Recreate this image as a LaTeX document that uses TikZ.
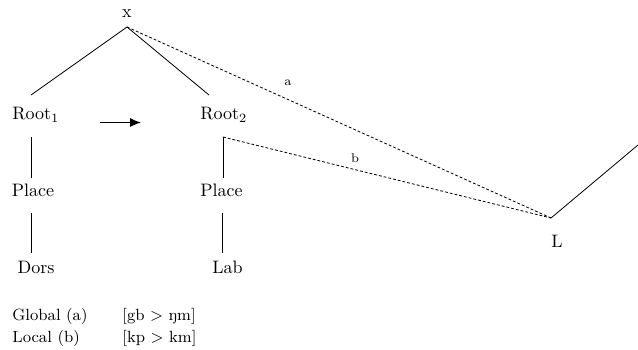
\documentclass[tikz,border=0pt]{standalone}
\usepackage{fontspec}
\usetikzlibrary{arrows.meta}
\begin{document}
\begin{tikzpicture}[x=0.555pt,y=-0.555pt,
  lbl/.style={inner sep=0pt,font=\normalsize},
  small/.style={inner sep=0pt,font=\scriptsize},
  leg/.style={inner sep=0pt,anchor=west,font=\small},
  link/.style={line width=0.45pt},
  assoc/.style={line width=0.45pt,dash pattern=on 1.6pt off 1.1pt}]
\useasboundingbox (0,0) rectangle (638,349);
% text nodes
\node[lbl] (x) at (127,14) {x};
\node[lbl,anchor=west] (r1) at (12,115) {Root$_1$};
\node[lbl,anchor=west] (r2) at (200,115) {Root$_2$};
\node[lbl] (p1) at (33,190) {Place};
\node[lbl] (p2) at (221.5,190) {Place};
\node[lbl] (d) at (36,267) {Dors};
\node[lbl] (lab) at (227.5,267) {Lab};
\node[lbl] (L) at (557,241) {L};
\node[small] (a) at (288,83) {a};
\node[small] (b) at (355,158) {b};
% attachment points
\coordinate (xt) at (127,27);
\coordinate (r1t) at (31,95);
\coordinate (r2t) at (209,95);
\coordinate (r1b) at (31,137);
\coordinate (p1t) at (31,178);
\coordinate (p1b) at (31,213);
\coordinate (d1t) at (31,253);
\coordinate (r2b) at (223,137);
\coordinate (p2t) at (223,178);
\coordinate (p2b) at (222,213);
\coordinate (l2t) at (222,253);
\coordinate (Lt) at (551,218);
\coordinate (out) at (638,145);
\coordinate (arS) at (100,122.5);
\coordinate (arE) at (141,122.5);
% lines
\draw[link] (r1t) -- (xt) -- (r2t);
\draw[link] (r1b) -- (p1t);
\draw[link] (p1b) -- (d1t);
\draw[link] (r2b) -- (p2t);
\draw[link] (p2b) -- (l2t);
\draw[assoc] (xt) -- (Lt);
\draw[assoc] (r2b) -- (Lt);
\draw[link] (Lt) -- (out);
\draw[line width=0.8pt,-{Latex[length=6pt,width=5pt]}] (arS) -- (arE);
% legend
\node[leg] (g1) at (12,316) {Global (a)};
\node[leg] (g2) at (122,316) {[gb > ŋm]};
\node[leg] (l1) at (12,338) {Local (b)};
\node[leg] (l2) at (122,338) {[kp > km]};
\end{tikzpicture}
\end{document}
